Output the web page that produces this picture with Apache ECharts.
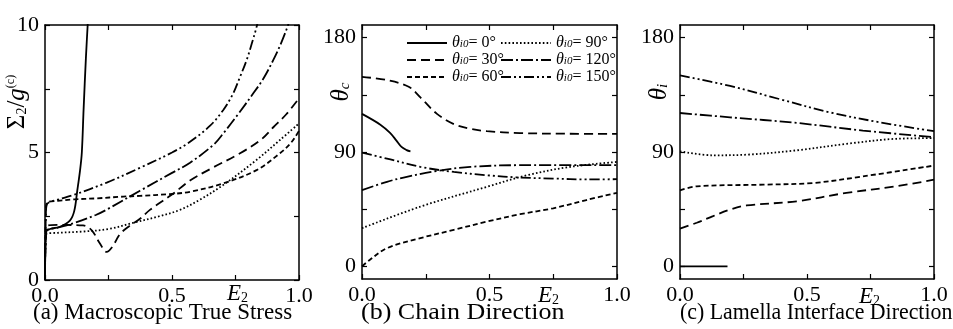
<!DOCTYPE html>
<html>
<head>
<meta charset="utf-8">
<script src="https://cdn.jsdelivr.net/npm/echarts@6/dist/echarts.min.js"></script>
<style>
  html, body { margin: 0; padding: 0; background: #fff; }
  #chart { width: 953px; height: 329px; }
</style>
</head>
<body>
<div id="chart"></div>
<script>
// initial angles of the lamella interface (legend keys)
const angles = ['0', '30', '60', '90', '120', '150'];

// (a) macroscopic true stress  [E2, Sigma2/g]
const stress0 = [[0,0],[0.004,1.9],[0.02,2.0],[0.059,2.09],[0.098,2.33],[0.115,2.7],[0.127,3.5],[0.138,4.3],[0.145,5.0],[0.152,6.7],[0.161,8.7],[0.168,10],[0.17,10.4]];
const stress30 = [[0,0],[0.005,2.1],[0.05,2.16],[0.15,2.14],[0.184,1.95],[0.215,1.45],[0.243,1.1],[0.265,1.3],[0.295,1.8],[0.33,2.1],[0.374,2.4],[0.413,2.75],[0.5,3.35],[0.571,3.9],[0.65,4.35],[0.768,4.97],[0.85,5.5],[0.9,6.0],[0.95,6.5],[1.0,7.12]];
const stress60 = [[0,0],[0.004,2.8],[0.01,3.05],[0.05,3.1],[0.111,3.16],[0.2,3.2],[0.308,3.27],[0.374,3.3],[0.492,3.37],[0.571,3.46],[0.702,3.79],[0.833,4.31],[0.925,4.97],[0.97,5.4],[1.0,5.85]];
const stress90 = [[0,0],[0.005,1.8],[0.05,1.85],[0.15,1.9],[0.25,2.0],[0.35,2.25],[0.45,2.5],[0.531,2.75],[0.61,3.15],[0.702,3.73],[0.833,4.71],[0.925,5.49],[1.0,6.14]];
const stress120 = [[0,0],[0.005,1.9],[0.05,2.05],[0.111,2.22],[0.2,2.55],[0.25,2.8],[0.374,3.5],[0.5,4.2],[0.571,4.6],[0.663,5.3],[0.702,5.75],[0.76,6.5],[0.82,7.32],[0.86,7.9],[0.899,8.63],[0.93,9.3],[0.957,10],[0.965,10.3]];
const stress150 = [[0,0],[0.004,2.7],[0.01,3.0],[0.05,3.15],[0.111,3.33],[0.243,3.82],[0.374,4.4],[0.5,5.0],[0.571,5.42],[0.65,6.05],[0.702,6.67],[0.74,7.3],[0.768,7.97],[0.794,8.63],[0.815,9.3],[0.835,10],[0.84,10.3]];

// (b) chain direction  [E2, theta_c]
const chain0 = [[0,120],[0.072,111.5],[0.11,105],[0.135,99],[0.155,94],[0.175,91.5],[0.19,90.5]];
const chain30 = [[0,149.2],[0.098,146.6],[0.183,141.4],[0.229,133],[0.294,120],[0.36,112],[0.42,108.5],[0.49,106.4],[0.62,104.9],[0.8,104.4],[1,104.3]];
const chain60 = [[0,0],[0.03,5],[0.098,14.3],[0.229,22.2],[0.36,28.7],[0.49,35.2],[0.62,41],[0.75,45.7],[0.88,52.2],[1,57.9]];
const chain90 = [[0,30],[0.229,47],[0.49,62.6],[0.647,71.7],[0.817,78.3],[1,82.2]];
const chain120 = [[0,60],[0.098,66.5],[0.163,69.9],[0.294,75.1],[0.425,78.3],[0.62,79.6],[1,79.6]];
const chain150 = [[0,89.5],[0.098,84.8],[0.229,78.3],[0.36,74.3],[0.49,71.7],[0.62,69.9],[0.75,69.1],[0.88,68.4],[1,68.6]];

// (c) lamella interface direction  [E2, theta_i]
const lamella0 = [[0,0],[0.187,0]];
const lamella30 = [[0,29.7],[0.066,34.3],[0.13,39.5],[0.197,44.7],[0.262,47.9],[0.459,51.2],[0.655,57.8],[0.852,63],[1,68.2]];
const lamella60 = [[0,59.8],[0.066,63],[0.328,64.3],[0.524,65.6],[0.72,70.8],[1,79.3]];
const lamella90 = [[0,90.5],[0.131,87.4],[0.262,87.9],[0.459,91.3],[0.655,96.4],[0.852,100.4],[1,100.9]];
const lamella120 = [[0,120.7],[0.197,117.3],[0.459,112.9],[0.72,106.9],[1,101.7]];
const lamella150 = [[0,150.3],[0.197,142],[0.393,131.6],[0.59,121.2],[0.786,113.4],[1,106.4]];

const xTicks = [0, 0.5, 1];
const stressTicks = [0, 5, 10];
const angleTickMarks = [0, 45, 90, 135, 180];
const angleTicks = [0, 90, 180];

const captions = ['(a) Macroscopic True Stress', '(b) Chain Direction', '(c) Lamella Interface Direction'];

const panelData = [
  [stress0, stress30, stress60, stress90, stress120, stress150],
  [chain0, chain30, chain60, chain90, chain120, chain150],
  [lamella0, lamella30, lamella60, lamella90, lamella120, lamella150]
];

const FONT = '"Liberation Serif", "Times New Roman", serif';
const dashes = ['solid', [9, 5], [5, 3], [1.6, 2.2], [12, 3, 2, 3], [10, 3, 2, 3, 2, 3]];
const grids = [
  { left: 45, top: 25, width: 254, height: 255 },
  { left: 362, top: 25, width: 255, height: 254 },
  { left: 680, top: 25, width: 254, height: 254 }
];

const chart = echarts.init(document.getElementById('chart'), null, { renderer: 'canvas' });

const frame = { show: true, onZero: false, lineStyle: { color: '#000', width: 1.5 } };
const tick = { show: true, inside: true, length: 5, lineStyle: { color: '#000', width: 1.2 } };
const labelBase = { color: '#000', fontFamily: FONT, fontSize: 22 };

const xAxis = [];
const yAxis = [];
grids.forEach((g, i) => {
  ['bottom', 'top'].forEach(pos => {
    xAxis.push({
      type: 'value', gridIndex: i, position: pos, min: 0, max: 1, interval: 0.25,
      axisLine: frame, axisTick: tick, splitLine: { show: false },
      axisLabel: pos === 'bottom'
        ? Object.assign({ customValues: xTicks, margin: 5, formatter: v => v.toFixed(1) }, labelBase)
        : { show: false }
    });
  });
  ['left', 'right'].forEach(pos => {
    const isStress = i === 0;
    yAxis.push({
      type: 'value', gridIndex: i, position: pos,
      min: isStress ? 0 : -10, max: isStress ? 10 : 190,
      interval: isStress ? 2.5 : undefined,
      axisLine: frame,
      axisTick: isStress ? tick : Object.assign({ customValues: angleTickMarks }, tick),
      splitLine: { show: false },
      axisLabel: pos === 'left'
        ? Object.assign({ customValues: isStress ? stressTicks : angleTicks, margin: 6 }, labelBase)
        : { show: false }
    });
  });
});

const series = [];
panelData.forEach((curves, i) => {
  curves.forEach((data, k) => {
    series.push({
      name: angles[k], type: 'line', data: data,
      xAxisIndex: i * 2, yAxisIndex: i * 2,
      symbol: 'none', smooth: 0.35,
      lineStyle: { color: '#000', width: 1.8, type: dashes[k] },
      itemStyle: { color: '#000' },
      silent: true
    });
  });
});

const legendRich = {
  t: { fontFamily: FONT, fontStyle: 'italic', fontSize: 16, lineHeight: 14 },
  s: { fontFamily: FONT, fontStyle: 'italic', fontSize: 11, lineHeight: 9, verticalAlign: 'bottom' },
  n: { fontFamily: FONT, fontSize: 16, lineHeight: 14 }
};
const legendBase = {
  orient: 'vertical', top: 35, itemGap: 1, itemHeight: 14, padding: 0,
  selectedMode: false,
  itemStyle: { opacity: 0 },
  formatter: name => '{t|θ}{s|i0}{n|= ' + name + '°}',
  textStyle: { color: '#000', lineHeight: 14, rich: legendRich }
};

const e2 = (left, top) => ({
  left, top, padding: 0,
  text: '{e|E}{s|2}',
  textStyle: {
    rich: {
      e: { fontFamily: FONT, fontStyle: 'italic', fontWeight: 'normal', fontSize: 23, lineHeight: 22, color: '#000' },
      s: { fontFamily: FONT, fontWeight: 'normal', fontSize: 14, lineHeight: 12, verticalAlign: 'bottom', color: '#000' }
    }
  }
});

// caption placement; the source panels are stretched differently, so each caption gets its own width scale
const capLefts = [33, 361, 680];
const capScale = [1.0, 1.13, 0.95];

const caption = (i) => ({
  type: 'text', x: capLefts[i], y: 301, scaleX: capScale[i],
  style: { text: captions[i], fontFamily: FONT, fontSize: 23, fill: '#000', align: 'left', verticalAlign: 'top' }
});

const axisName = (x, y, text, rich) => ({
  type: 'text', x, y, rotation: Math.PI / 2,
  style: { text, rich, align: 'center', verticalAlign: 'middle', fill: '#000' }
});
const nameRich = {
  m: { fontFamily: FONT, fontSize: 25, fill: '#000', lineHeight: 24 },
  i: { fontFamily: FONT, fontStyle: 'italic', fontSize: 25, fill: '#000', lineHeight: 24 },
  b: { fontFamily: FONT, fontSize: 14, fill: '#000', lineHeight: 12, verticalAlign: 'bottom' },
  bi: { fontFamily: FONT, fontStyle: 'italic', fontSize: 15, fill: '#000', lineHeight: 12, verticalAlign: 'bottom' },
  p: { fontFamily: FONT, fontSize: 12, fill: '#000', lineHeight: 12, verticalAlign: 'top' }
};

chart.setOption({
  animation: false,
  grid: grids,
  xAxis, yAxis, series,
  legend: [
    Object.assign({ left: 406, itemWidth: 40, data: angles.slice(0, 3) }, legendBase),
    Object.assign({ left: 500, itemWidth: 50, data: angles.slice(3) }, legendBase)
  ],
  title: [e2(227, 283), e2(538, 285), e2(859, 286)],
  graphic: [
    caption(0), caption(1), caption(2),
    axisName(17, 102, '{m|Σ}{b|2}{m|/}{i|g}{p|(c)}', nameRich),
    axisName(341, 92, '{i|θ}{bi|c}', nameRich),
    axisName(659, 92, '{i|θ}{bi|i}', nameRich)
  ]
});
</script>
</body>
</html>
